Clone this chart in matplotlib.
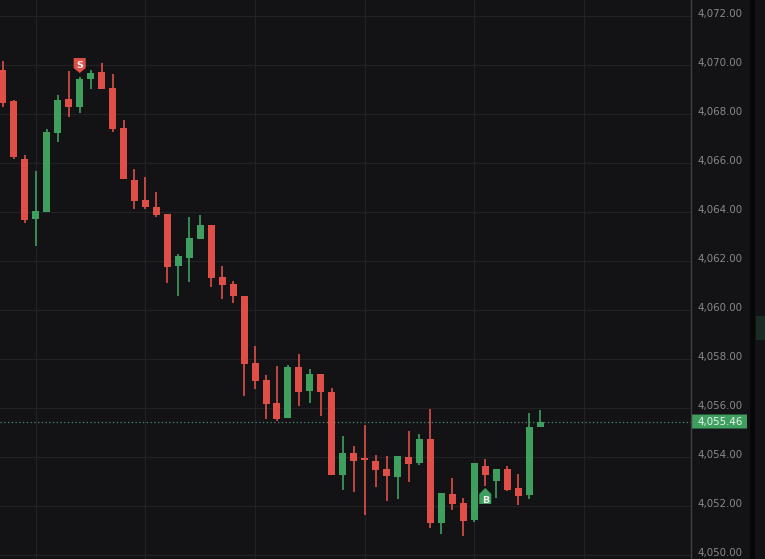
import matplotlib
matplotlib.use("Agg")
import matplotlib.pyplot as plt
import matplotlib.transforms as mtransforms
from matplotlib.patches import Rectangle, Polygon, FancyBboxPatch
import numpy as np

# ---- data (OHLC) ----
opens = [4069.81, 4068.54, 4066.17, 4063.73, 4064.01, 4067.24, 4068.62, 4068.30, 4069.44, 4069.73,
         4069.07, 4067.44, 4065.32, 4064.50, 4064.22, 4063.93, 4061.81, 4062.13, 4062.91, 4063.48,
         4061.36, 4061.07, 4060.58, 4057.85, 4057.15, 4056.22, 4055.60, 4057.69, 4056.71, 4057.40,
         4056.67, 4053.28, 4054.18, 4053.97, 4053.85, 4053.52, 4053.19, 4054.01, 4053.77, 4054.75,
         4051.32, 4052.50, 4052.13, 4051.44, 4053.64, 4053.03, 4053.52, 4052.75, 4052.46, 4055.24]
closes = [4068.46, 4066.26, 4063.69, 4064.05, 4067.28, 4068.58, 4068.30, 4069.44, 4069.69, 4069.03,
          4067.40, 4065.36, 4064.46, 4064.22, 4063.91, 4061.77, 4062.22, 4062.95, 4063.48, 4061.32,
          4061.03, 4060.58, 4057.81, 4057.11, 4056.18, 4055.56, 4057.69, 4056.67, 4057.40, 4056.67,
          4053.28, 4054.18, 4053.85, 4053.89, 4053.48, 4053.24, 4054.05, 4053.73, 4054.75, 4051.32,
          4052.54, 4052.09, 4051.40, 4053.77, 4053.28, 4053.52, 4052.66, 4052.42, 4055.24, 4055.46]
highs = [4070.18, 4068.58, 4066.34, 4065.69, 4067.40, 4068.79, 4069.77, 4069.52, 4069.81, 4070.09,
         4069.64, 4067.77, 4065.77, 4065.44, 4064.83, 4063.93, 4062.30, 4063.81, 4063.89, 4063.48,
         4061.81, 4061.20, 4060.58, 4058.54, 4057.36, 4057.73, 4057.77, 4058.22, 4057.60, 4057.40,
         4056.83, 4054.87, 4054.46, 4055.32, 4054.09, 4054.05, 4054.05, 4055.07, 4054.95, 4055.97,
         4052.54, 4053.15, 4052.34, 4053.77, 4053.93, 4053.52, 4053.64, 4053.32, 4055.81, 4055.93]
lows = [4068.30, 4066.18, 4063.56, 4062.62, 4064.01, 4066.87, 4067.89, 4068.05, 4069.03, 4069.03,
        4067.28, 4065.36, 4064.13, 4064.13, 4063.81, 4061.11, 4060.58, 4061.16, 4062.91, 4060.95,
        4060.46, 4060.30, 4056.50, 4056.79, 4055.56, 4055.48, 4055.60, 4056.09, 4056.22, 4055.69,
        4053.28, 4052.67, 4052.58, 4051.64, 4052.79, 4052.22, 4052.30, 4052.99, 4053.68, 4051.11,
        4050.87, 4051.85, 4050.79, 4051.36, 4052.83, 4052.34, 4052.62, 4052.05, 4052.30, 4055.24]

price_ticks = [4050, 4052, 4054, 4056, 4058, 4060, 4062, 4064, 4066, 4068, 4070, 4072]
last_price = 4055.46
sell_index = 7
buy_index = 44

# ---- style ----
BG = "#131315"
GRID = "#222225"
UP = "#3e9f5f"
DOWN = "#df4f47"
TXT = "#88888d"

W, H = 765, 559
fig = plt.figure(figsize=(W / 100, H / 100), dpi=100)
fig.patch.set_facecolor(BG)

ax_right = 691 / W
ax = fig.add_axes([0, 0, ax_right, 1])
ax.set_facecolor(BG)
for s in ax.spines.values():
    s.set_visible(False)
ax.set_xticks([])
ax.set_yticks([])

n = len(opens)
x = np.arange(n)
ax.set_xlim(-0.27, 62.77)
ax.set_ylim(4049.849, 4072.665)

# grid
for t in price_ticks:
    ax.axhline(t, color=GRID, lw=0.9, zorder=0)
for gx in range(3, 63, 10):
    ax.axvline(gx, color=GRID, lw=0.9, zorder=0)

# candles
bw = 0.64
for i in range(n):
    o, c, h, l = opens[i], closes[i], highs[i], lows[i]
    col = UP if c >= o else DOWN
    ax.vlines(x[i], l, h, color=col, lw=1.2, zorder=2)
    bottom = min(o, c)
    height = max(abs(c - o), 0.06)
    ax.add_patch(Rectangle((x[i] - bw / 2, bottom), bw, height, facecolor=col,
                           edgecolor='none', zorder=3))

# last price dotted line
ax.axhline(last_price, color="#4f8f6c", lw=0.9, ls=(0, (1, 2)), zorder=1)

# markers
ppt = fig.dpi / 72.0
def marker(xi, yv, verts, color, label, dy_text):
    tr = mtransforms.Affine2D() + mtransforms.ScaledTranslation(xi, yv, ax.transData)
    ax.add_patch(Polygon(verts, closed=True, transform=tr, facecolor=color,
                         edgecolor='none', zorder=5))
    ttr = mtransforms.offset_copy(ax.transData, fig=fig, x=0, y=dy_text / ppt, units='points')
    ax.text(xi, yv, label, transform=ttr, ha='center', va='center_baseline', color='#f4f4f4',
            fontsize=6.8, fontweight='bold', zorder=6)

# sell marker: pointing down, tip above high
sv = [(-6, 19), (6, 19), (6, 9), (0, 4), (-6, 9)]
marker(sell_index, highs[sell_index], sv, DOWN, "S", 13)
# buy marker: pointing up, tip below low
bv = [(-6, -18), (6, -18), (6, -8), (0, -2), (-6, -8)]
marker(buy_index, lows[buy_index], bv, UP, "B", -13.5)

# right price axis
fig.add_artist(plt.Line2D([ax_right, ax_right], [0, 1], transform=fig.transFigure,
                          color="#404044", lw=1.0))
blend = mtransforms.blended_transform_factory(fig.transFigure, ax.transData)
lab_tr = mtransforms.offset_copy(blend, fig=fig, x=0, y=2 / ppt, units='points')
for t in price_ticks:
    ax.text(698 / W, t, f"{t:,.2f}", transform=lab_tr, ha='left', va='center',
            color=TXT, fontsize=7.4, clip_on=False)

# last price badge
half = 7 / 24.5
badge = FancyBboxPatch((692 / W, last_price - half), 55 / W, 2 * half,
                       boxstyle='round,pad=0,rounding_size=0.002', transform=blend,
                       facecolor=UP, edgecolor='none', clip_on=False, zorder=6,
                       mutation_aspect=1)
ax.add_artist(badge)
ax.text(698 / W, last_price, f"{last_price:,.2f}", transform=blend, ha='left', va='center',
        color='#eaf5ee', fontsize=7.4, clip_on=False, zorder=7)

# right edge strip
fig.add_artist(Rectangle((750 / W, 0), 5 / W, 1, transform=fig.transFigure,
                         facecolor="#070708", edgecolor='none'))
fig.add_artist(Rectangle((756 / W, 1 - 340 / H), 9 / W, 24 / H, transform=fig.transFigure,
                         facecolor="#1a2b23", edgecolor='none'))

fig.savefig("out.png", dpi=100, facecolor=BG)
